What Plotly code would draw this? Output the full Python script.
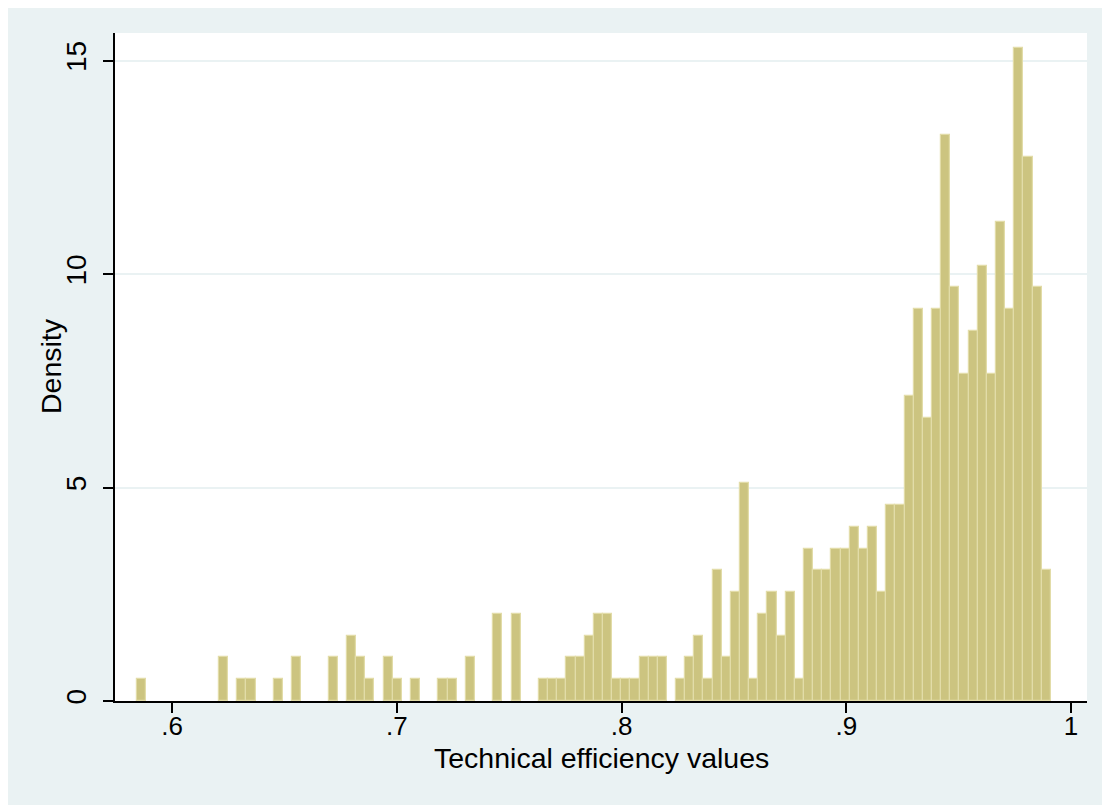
import plotly.graph_objects as go

# Histogram: 100 equal bins starting at bin_start, width bin_width
bin_start = 0.5843
bin_width = 0.004067
counts = [
    1, 0, 0, 0, 0, 0, 0, 0, 0, 2,
    0, 1, 1, 0, 0, 1, 0, 2, 0, 0,
    0, 2, 0, 3, 2, 1, 0, 2, 1, 0,
    1, 0, 0, 1, 1, 0, 2, 0, 0, 4,
    0, 4, 0, 0, 1, 1, 1, 2, 2, 3,
    4, 4, 1, 1, 1, 2, 2, 2, 0, 1,
    2, 3, 1, 6, 2, 5, 10, 1, 4, 5,
    3, 5, 1, 7, 6, 6, 7, 7, 8, 7,
    8, 5, 9, 9, 14, 18, 13, 18, 26, 19,
    15, 17, 20, 15, 22, 18, 30, 25, 19, 6,
]
x_ticks = [0.6, 0.7, 0.8, 0.9, 1.0]
x_tick_labels = [".6", ".7", ".8", ".9", "1"]
y_ticks = [0, 5, 10, 15]
y_tick_labels = ["0", "5", "10", "15"]
x_title = "Technical efficiency values"
y_title = "Density"

n_total = sum(counts)
centers = [bin_start + (i + 0.5) * bin_width for i in range(len(counts))]
density = [c / (n_total * bin_width) for c in counts]
outline_w = [1.2 if c > 0 else 0 for c in counts]

# page body has an 8px margin, so the figure is 8px smaller than the window
OFF = 8
W, H = 1110 - OFF, 808 - OFF
L, R, T, B = 115 - OFF, 23, 33 - OFF, 107
BG = "#EAF2F3"
FONT = "Liberation Sans, Arial, sans-serif"

pw, ph = W - L - R, H - T - B
def px_x(sx):  # screen px -> paper x
    return (sx - OFF - L) / pw
def px_y(sy):  # screen px -> paper y
    return (OFF + H - B - sy) / ph

fig = go.Figure()
fig.add_trace(go.Bar(
    x=centers, y=density, width=bin_width,
    marker=dict(color="rgb(204,196,128)",
                line=dict(color="rgb(226,220,168)", width=outline_w)),
    hoverinfo="x+y", showlegend=False,
))

fig.update_layout(
    width=W, height=H,
    margin=dict(l=L, r=R, t=T, b=B, pad=0),
    paper_bgcolor=BG, plot_bgcolor="white",
    font=dict(family=FONT, color="black"),
    bargap=0,
    xaxis=dict(
        range=[0.5746, 1.0071], tickmode="array", automargin=False,
        tickvals=x_ticks, ticktext=x_tick_labels,
        ticks="outside", ticklen=10, tickwidth=1.5, tickcolor="black",
        tickfont=dict(size=26, family=FONT), ticklabelstandoff=-9,
        showline=True, linecolor="black", linewidth=1.5, mirror=False,
        showgrid=False, zeroline=False,
    ),
    yaxis=dict(
        range=[0, 15.65], tickmode="array", automargin=False,
        tickvals=y_ticks, ticktext=y_tick_labels, tickangle=-90,
        ticks="outside", ticklen=10, tickwidth=1.5, tickcolor="black",
        tickfont=dict(size=28, family=FONT), ticklabelstandoff=6,
        showline=True, linecolor="black", linewidth=1.5, mirror=False,
        showgrid=True, gridcolor=BG, gridwidth=1.5, zeroline=False,
    ),
)

fig.add_annotation(text=x_title, xref="paper", yref="paper",
                   x=px_x(601), y=px_y(758), xanchor="center", yanchor="middle",
                   showarrow=False, font=dict(size=28.5, family=FONT, color="black"))
fig.add_annotation(text=y_title, xref="paper", yref="paper", textangle=-90,
                   x=px_x(51), y=px_y(366), xanchor="center", yanchor="middle",
                   showarrow=False, font=dict(size=28.5, family=FONT, color="black"))

# thin white outer border on right and bottom edges
for (x0, y0, x1, y1) in [(0, 805, 1110, 808), (1106, 0, 1110, 808)]:
    fig.add_shape(type="rect", xref="paper", yref="paper",
                  x0=px_x(x0), x1=px_x(x1), y0=px_y(y1), y1=px_y(y0),
                  fillcolor="white", line=dict(width=0), layer="above")

fig.write_html("out.html")
